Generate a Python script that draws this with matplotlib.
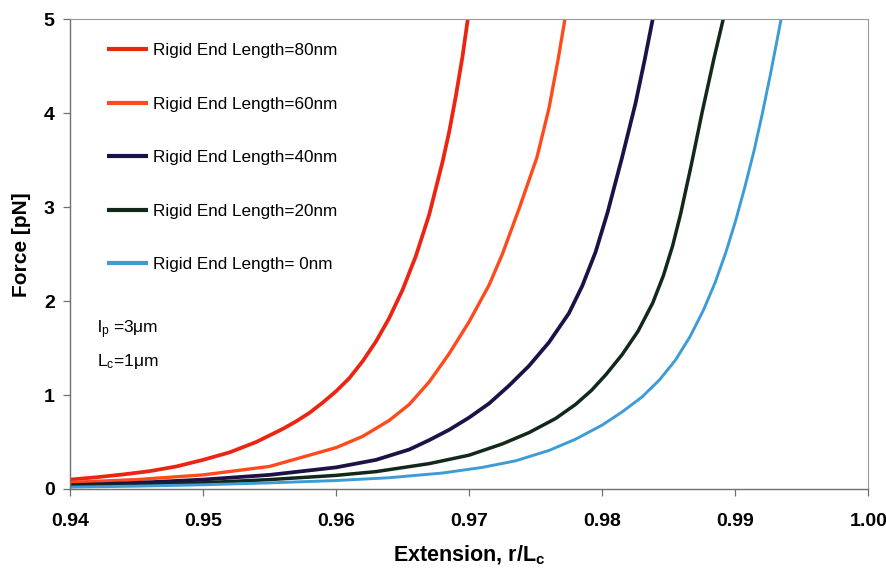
import matplotlib
matplotlib.use("Agg")
import matplotlib.pyplot as plt

plt.rcParams["font.family"] = ["Liberation Sans", "DejaVu Sans"]
plt.rcParams["mathtext.fontset"] = "custom"
plt.rcParams["mathtext.rm"] = "Liberation Sans"
plt.rcParams["mathtext.it"] = "Liberation Sans:italic"
plt.rcParams["mathtext.bf"] = "Liberation Sans:bold"

# Force-extension curves for different rigid end lengths (lp = 3 um, Lc = 1 um)
labels = [
    "Rigid End Length=80nm",
    "Rigid End Length=60nm",
    "Rigid End Length=40nm",
    "Rigid End Length=20nm",
    "Rigid End Length= 0nm",
]

ext_80 = [0.9400, 0.9420, 0.9440, 0.9460, 0.9480, 0.9500, 0.9520, 0.9540,
          0.9550, 0.9560, 0.9570, 0.9580, 0.9590, 0.9600, 0.9610, 0.9620,
          0.9630, 0.9640, 0.9650, 0.9660, 0.9670, 0.9680, 0.9685, 0.9690,
          0.9695, 0.9699]
force_80 = [0.10, 0.125, 0.155, 0.19, 0.24, 0.31, 0.39, 0.50,
            0.57, 0.64, 0.72, 0.81, 0.92, 1.04, 1.18, 1.36,
            1.57, 1.82, 2.12, 2.48, 2.92, 3.48, 3.80, 4.18,
            4.60, 5.00]

ext_60 = [0.9400, 0.9450, 0.9500, 0.9550, 0.9600, 0.9620, 0.9640, 0.9655,
          0.9670, 0.9685, 0.9700, 0.9715, 0.9725, 0.9738, 0.9751, 0.9760,
          0.9767, 0.9772]
force_60 = [0.07, 0.10, 0.15, 0.24, 0.44, 0.56, 0.73, 0.90,
            1.14, 1.44, 1.78, 2.17, 2.50, 3.00, 3.53, 4.05,
            4.58, 5.00]

ext_40 = [0.9400, 0.9450, 0.9500, 0.9550, 0.9600, 0.9630, 0.9655, 0.9670,
          0.9685, 0.9700, 0.9715, 0.9730, 0.9745, 0.9760, 0.9775, 0.9785,
          0.9795, 0.9804, 0.9815, 0.9825, 0.9832, 0.9838]
force_40 = [0.04, 0.065, 0.10, 0.15, 0.23, 0.31, 0.42, 0.52,
            0.63, 0.76, 0.91, 1.10, 1.31, 1.56, 1.87, 2.16,
            2.52, 2.94, 3.53, 4.10, 4.57, 5.00]

ext_20 = [0.9400, 0.9450, 0.9500, 0.9550, 0.9600, 0.9630, 0.9670, 0.9700,
          0.9725, 0.9745, 0.9765, 0.9780, 0.9792, 0.9803, 0.9815, 0.9827,
          0.9838, 0.9846, 0.9853, 0.9859, 0.9867, 0.9875, 0.9884, 0.9891]
force_20 = [0.03, 0.045, 0.066, 0.10, 0.145, 0.185, 0.27, 0.36,
            0.48, 0.60, 0.75, 0.90, 1.05, 1.22, 1.43, 1.68,
            1.98, 2.27, 2.59, 2.93, 3.45, 4.00, 4.58, 5.00]

ext_0 = [0.9400, 0.9450, 0.9500, 0.9550, 0.9600, 0.9640, 0.9680, 0.9710,
         0.9735, 0.9760, 0.9780, 0.9800, 0.9815, 0.9830, 0.9843, 0.9855,
         0.9866, 0.9876, 0.9885, 0.9893, 0.9900, 0.9907, 0.9914, 0.9920,
         0.9926, 0.99315, 0.99345]
force_0 = [0.02, 0.03, 0.045, 0.065, 0.09, 0.12, 0.17, 0.23,
           0.30, 0.41, 0.53, 0.68, 0.82, 0.98, 1.16, 1.37,
           1.62, 1.90, 2.20, 2.52, 2.84, 3.20, 3.59, 3.97,
           4.38, 4.78, 5.00]

series = [(ext_80, force_80), (ext_60, force_60), (ext_40, force_40),
          (ext_20, force_20), (ext_0, force_0)]
colors = ["#EC2412", "#FF4A1C", "#1C1248", "#12281A", "#3D9CD6"]
widths = [2.7, 2.4, 2.7, 2.5, 2.1]

x_ticks = [0.94, 0.95, 0.96, 0.97, 0.98, 0.99, 1.00]
x_tick_labels = ["0.94", "0.95", "0.96", "0.97", "0.98", "0.99", "1.00"]
y_ticks = [0, 1, 2, 3, 4, 5]

fig = plt.figure(figsize=(8.86, 5.73), dpi=100)
ax = fig.add_axes([0.079, 0.1466, 0.901, 0.8202])

for (xs, ys), c, lw, lab in zip(series, colors, widths, labels):
    ax.plot(xs, ys, color=c, lw=lw, label=lab, solid_capstyle="butt",
            solid_joinstyle="round")

ax.set_xlim(0.94, 1.00)
ax.set_ylim(0, 5)
ax.set_xticks(x_ticks)
ax.set_xticklabels(x_tick_labels)
ax.set_yticks(y_ticks)

for side in ["left", "bottom"]:
    ax.spines[side].set_color("#707070")
    ax.spines[side].set_linewidth(1.0)
for side in ["top", "right"]:
    ax.spines[side].set_color("#9a9a9a")
    ax.spines[side].set_linewidth(0.8)

ax.tick_params(axis="both", direction="out", length=5, width=0.9,
               color="#707070", labelsize=14, pad=6)
ax.tick_params(axis="x", pad=12)
for t in ax.get_xticklabels() + ax.get_yticklabels():
    t.set_fontweight("bold")

ax.set_xlabel(r"Extension, r/L$_{\mathbf{c}}$", fontsize=15.5,
              fontweight="bold", labelpad=10)
ax.set_ylabel("Force [pN]", fontsize=15, fontweight="bold")
ax.yaxis.set_label_coords(-0.049, 0.52)

leg = ax.legend(loc="upper left", bbox_to_anchor=(0.038, 0.963),
                frameon=False, fontsize=12.3, handlelength=2.4,
                handletextpad=0.3, labelspacing=2.25, borderaxespad=0)
for h in leg.get_lines():
    h.set_linewidth(3.0)

ax.text(0.0338, 0.3380, r"l$_\mathregular{p}$ =3μm", transform=ax.transAxes,
        fontsize=12.5, va="center", ha="left")
ax.text(0.0338, 0.2720, r"L$_\mathregular{c}$=1μm", transform=ax.transAxes,
        fontsize=12.5, va="center", ha="left")

fig.savefig("out.png", dpi=100, facecolor="white")
